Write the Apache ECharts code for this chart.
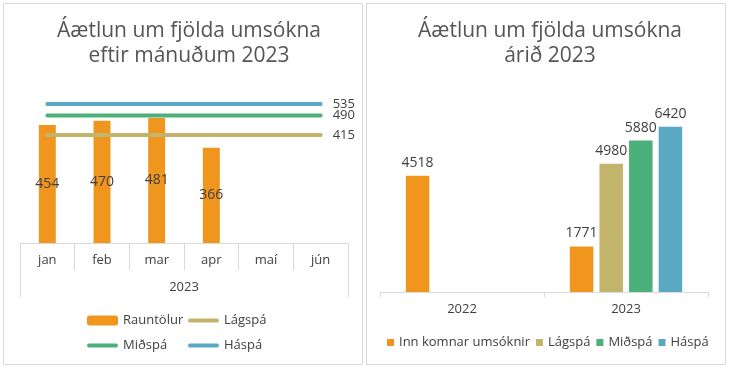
<!DOCTYPE html>
<html><head><meta charset="utf-8">
<script src="https://cdn.jsdelivr.net/npm/echarts@6/dist/echarts.min.js"></script>
<style>html,body{margin:0;padding:0;background:#fff}#c{width:731px;height:369px}</style>
</head><body><div id="c"></div>
<script>
// Left chart data
const months = ['jan','feb','mar','apr','maí','jún'];
const groupYear = ['2023'];
const actualMonthly = [454, 470, 481, 366, null, null];
const lowMonthly = [415, 415, 415, 415, 415, 415];
const midMonthly = [490, 490, 490, 490, 490, 490];
const highMonthly = [535, 535, 535, 535, 535, 535];
// Right chart data
const years = ['2022', '2023'];
const received = [4518, 1771];
const lowYear = [null, 4980];
const midYear = [null, 5880];
const highYear = [null, 6420];

const FONT = 'Open Sans';
const C_OR = '#f0961e', C_LO = '#c3b46c', C_MI = '#4cb07a', C_HI = '#5aa8c4';
const txt = '#404040';
const LINE_ICON = 'path://M2,0H30A2,2,0,0,1,30,4H2A2,2,0,0,1,2,0Z';

const chart = echarts.init(document.getElementById('c'), null, {renderer: 'canvas'});

function lineSeries(name, data, color) {
  return {
    name, type: 'line', data, xAxisIndex: 0, yAxisIndex: 0,
    symbol: 'none', silent: true,
    lineStyle: {color, width: 4, cap: 'round'},
    itemStyle: {color},
    endLabel: {show: true, color: txt, fontFamily: FONT, fontSize: 13, distance: 12,
      formatter: p => p.value}
  };
}
function yearBar(name, data, color) {
  return {name, type: 'bar', data, xAxisIndex: 2, yAxisIndex: 1,
    barWidth: 23.5, barGap: '26%', itemStyle: {color},
    label: {show: true, position: 'top', distance: 6, color: txt, fontFamily: FONT, fontSize: 14}};
}

const option = {
  animation: false,
  textStyle: {fontFamily: FONT},
  graphic: [
    {type: 'rect', shape: {x: 3.5, y: 3.5, width: 359, height: 361}, style: {fill: null, stroke: '#d9d9d9', lineWidth: 1}},
    {type: 'rect', shape: {x: 366.5, y: 3.5, width: 359, height: 361}, style: {fill: null, stroke: '#d9d9d9', lineWidth: 1}}
  ],
  title: [
    {text: 'Áætlun um fjölda umsókna\neftir mánuðum 2023', left: 184, top: 14, textAlign: 'center',
      textStyle: {fontFamily: FONT, fontSize: 21, fontWeight: 'normal', color: '#555555', lineHeight: 25}},
    {text: 'Áætlun um fjölda umsókna\nárið 2023', left: 545, top: 14, textAlign: 'center',
      textStyle: {fontFamily: FONT, fontSize: 21, fontWeight: 'normal', color: '#555555', lineHeight: 25}}
  ],
  legend: [
    {data: ['Rauntölur', {name: 'Miðspá', icon: LINE_ICON}], left: 82, top: 309, orient: 'vertical', itemGap: 12,
      itemWidth: 31, itemHeight: 10, textStyle: {fontFamily: FONT, fontSize: 13, color: txt}},
    {data: [{name: 'Lágspá', icon: LINE_ICON}, {name: 'Háspá', icon: LINE_ICON}], left: 183, top: 309, orient: 'vertical', itemGap: 12,
      itemWidth: 31, itemHeight: 10, textStyle: {fontFamily: FONT, fontSize: 13, color: txt}},
    {data: [{name: 'Inn komnar umsóknir', icon: 'rect'}, {name: 'Lágspá', icon: 'rect'}, {name: 'Miðspá', icon: 'rect'}, {name: 'Háspá', icon: 'rect'}],
      left: 382, top: 331, itemGap: 6, itemWidth: 7, itemHeight: 7, width: 340,
      textStyle: {fontFamily: FONT, fontSize: 13, color: txt}}
  ],
  grid: [
    {left: 20, right: 383, top: 87, bottom: 126},
    {left: 380, right: 23, top: 86, bottom: 77}
  ],
  xAxis: [
    {type: 'category', gridIndex: 0, data: months, boundaryGap: true,
      axisLine: {lineStyle: {color: '#d9d9d9'}},
      axisTick: {show: true, length: 27, lineStyle: {color: '#d9d9d9'}},
      axisLabel: {color: txt, fontFamily: FONT, fontSize: 13, margin: 11}},
    {type: 'category', gridIndex: 0, data: groupYear, position: 'bottom', boundaryGap: true,
      axisLine: {show: false},
      axisTick: {show: true, length: 54, lineStyle: {color: '#d9d9d9'}},
      axisLabel: {color: txt, fontFamily: FONT, fontSize: 13, margin: 38}},
    {type: 'category', gridIndex: 1, data: years, boundaryGap: true,
      axisLine: {lineStyle: {color: '#d9d9d9'}},
      axisTick: {show: true, length: 5, lineStyle: {color: '#d9d9d9'}},
      axisLabel: {color: txt, fontFamily: FONT, fontSize: 13, margin: 11}}
  ],
  yAxis: [
    {type: 'value', gridIndex: 0, min: 0, max: 600, show: false, splitLine: {show: false}},
    {type: 'value', gridIndex: 1, min: 0, max: 8000, show: false, splitLine: {show: false}}
  ],
  series: [
    {name: 'Rauntölur', type: 'bar', data: actualMonthly, xAxisIndex: 0, yAxisIndex: 0,
      barWidth: '31%', itemStyle: {color: C_OR},
      label: {show: true, position: 'inside', color: txt, fontFamily: FONT, fontSize: 14}},
    lineSeries('Lágspá', lowMonthly, C_LO),
    lineSeries('Miðspá', midMonthly, C_MI),
    lineSeries('Háspá', highMonthly, C_HI),
    yearBar('Inn komnar umsóknir', received, C_OR),
    yearBar('Lágspá', lowYear, C_LO),
    yearBar('Miðspá', midYear, C_MI),
    yearBar('Háspá', highYear, C_HI)
  ]
};
chart.setOption(option);
</script></body></html>
